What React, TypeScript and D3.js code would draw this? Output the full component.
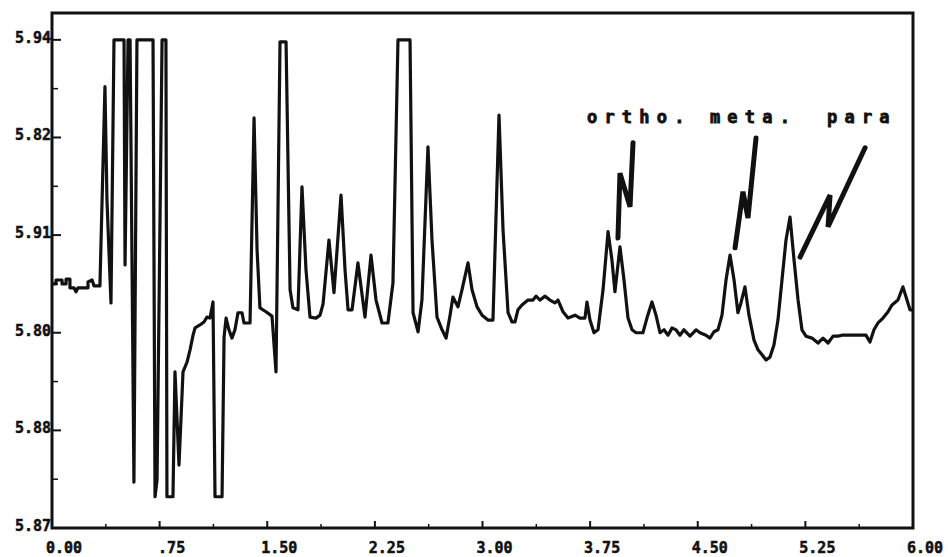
import React from "react";
import * as d3 from "d3";

// retention time (min) vs detector signal
const trace: [number, number][] = [
  [0, 5.89], [0.028, 5.89], [0.028, 5.8908], [0.07, 5.8908], [0.07, 5.89], [0.098, 5.89],
  [0.098, 5.891], [0.125, 5.891], [0.125, 5.8892], [0.153, 5.8892], [0.167, 5.8884], [0.181, 5.8892],
  [0.251, 5.8892], [0.251, 5.8904], [0.279, 5.8908], [0.293, 5.8896], [0.334, 5.8896],
  [0.369, 5.9304], [0.383, 5.9072], [0.411, 5.8861], [0.432, 5.94], [0.502, 5.94], [0.509, 5.8939],
  [0.53, 5.94], [0.544, 5.94], [0.571, 5.8494], [0.592, 5.94], [0.704, 5.94], [0.718, 5.8464],
  [0.732, 5.8498], [0.767, 5.94], [0.794, 5.94], [0.801, 5.8464], [0.843, 5.8464], [0.857, 5.872],
  [0.885, 5.8529], [0.913, 5.872], [0.941, 5.874], [0.962, 5.8765], [0.983, 5.8795], [0.997, 5.881],
  [1.031, 5.8816], [1.059, 5.8822], [1.08, 5.8832], [1.101, 5.883], [1.122, 5.8863], [1.136, 5.8464],
  [1.185, 5.8464], [1.199, 5.8791], [1.213, 5.883], [1.233, 5.8806], [1.254, 5.8789], [1.275, 5.8806],
  [1.296, 5.8841], [1.324, 5.8841], [1.338, 5.882], [1.38, 5.882], [1.408, 5.924], [1.429, 5.897],
  [1.449, 5.8851], [1.491, 5.8843], [1.533, 5.8834], [1.561, 5.872], [1.589, 5.9396], [1.631, 5.9396],
  [1.659, 5.8888], [1.679, 5.8851], [1.714, 5.8847], [1.742, 5.9099], [1.77, 5.8929], [1.798, 5.8832],
  [1.84, 5.883], [1.868, 5.8836], [1.889, 5.8859], [1.93, 5.899], [1.965, 5.8882], [2.014, 5.9082],
  [2.042, 5.8929], [2.063, 5.8847], [2.091, 5.8847], [2.132, 5.8943], [2.181, 5.8832], [2.223, 5.8959],
  [2.258, 5.8867], [2.3, 5.882], [2.341, 5.882], [2.376, 5.8902], [2.411, 5.94], [2.495, 5.94],
  [2.516, 5.8841], [2.551, 5.8802], [2.578, 5.8867], [2.62, 5.9181], [2.648, 5.899], [2.683, 5.8832],
  [2.718, 5.8806], [2.746, 5.8789], [2.774, 5.8836], [2.794, 5.8873], [2.829, 5.8853], [2.857, 5.8888],
  [2.899, 5.8943], [2.927, 5.8888], [2.962, 5.8853], [2.997, 5.8836], [3.038, 5.8826], [3.073, 5.8826],
  [3.115, 5.9246], [3.143, 5.9011], [3.178, 5.8841], [3.206, 5.8822], [3.226, 5.8822], [3.247, 5.8847],
  [3.275, 5.8857], [3.317, 5.8867], [3.352, 5.8867], [3.373, 5.8875], [3.401, 5.8867], [3.436, 5.8875],
  [3.47, 5.8867], [3.505, 5.8861], [3.526, 5.8867], [3.561, 5.8843], [3.596, 5.883], [3.645, 5.8836],
  [3.679, 5.883], [3.714, 5.883], [3.728, 5.8863], [3.749, 5.8826], [3.777, 5.88], [3.805, 5.8806],
  [3.84, 5.8888], [3.875, 5.9007], [3.902, 5.8949], [3.923, 5.8884], [3.958, 5.8976], [3.986, 5.8908],
  [4.014, 5.883], [4.042, 5.8806], [4.07, 5.88], [4.118, 5.88], [4.146, 5.883], [4.181, 5.8863],
  [4.209, 5.8836], [4.237, 5.88], [4.265, 5.8806], [4.293, 5.8795], [4.321, 5.881], [4.348, 5.8806],
  [4.376, 5.8795], [4.404, 5.8806], [4.446, 5.8793], [4.488, 5.8806], [4.516, 5.88], [4.557, 5.8795],
  [4.585, 5.8789], [4.613, 5.8802], [4.641, 5.8806], [4.669, 5.8836], [4.697, 5.8908], [4.725, 5.8959],
  [4.753, 5.8908], [4.78, 5.8841], [4.801, 5.8861], [4.829, 5.8894], [4.857, 5.8836], [4.892, 5.8785],
  [4.92, 5.8765], [4.948, 5.8755], [4.976, 5.8744], [5.003, 5.875], [5.031, 5.8775], [5.059, 5.8826],
  [5.087, 5.8908], [5.115, 5.899], [5.143, 5.9037], [5.171, 5.8949], [5.199, 5.8867], [5.226, 5.8806],
  [5.254, 5.8793], [5.296, 5.8789], [5.338, 5.8779], [5.373, 5.8789], [5.408, 5.8779], [5.443, 5.8793],
  [5.477, 5.8793], [5.505, 5.8795], [5.561, 5.8795], [5.617, 5.8795], [5.672, 5.8795], [5.7, 5.8781],
  [5.728, 5.8806], [5.756, 5.882], [5.791, 5.883], [5.826, 5.8843], [5.854, 5.8857], [5.895, 5.8867],
  [5.93, 5.8894], [5.958, 5.8867], [5.979, 5.8847], [6.0, 5.8847],
];

const xTicks = [0, 0.75, 1.5, 2.25, 3.0, 3.75, 4.5, 5.25, 6.0];
const xTickLabels = ["0.00", ".75", "1.50", "2.25", "3.00", "3.75", "4.50", "5.25", "6.00"];
const xMinor = [0.375, 1.125, 1.875, 2.625, 3.375, 4.125, 4.875, 5.625];

const yTicks = [5.84, 5.86, 5.88, 5.9, 5.92, 5.94];
const yTickLabels = ["5.87", "5.88", "5.80", "5.91", "5.82", "5.94"]; // as printed on the scan
const yMinor = [5.85, 5.87, 5.89, 5.91, 5.93];

// peak labels and the zig-zag pointers (data coords)
const peakNames = ["ortho.", "meta.", "para"];
const peakLabelX = [3.728, 4.585, 5.401];
const peakLabelY = 5.923;
const pointers: [number, number][][] = [
  [[3.944, 5.8994], [3.958, 5.9127], [4.028, 5.9058], [4.049, 5.9189]],
  [[4.76, 5.8974], [4.815, 5.9089], [4.85, 5.9035], [4.906, 5.9199]],
  [[5.213, 5.8955], [5.422, 5.9082], [5.408, 5.9017], [5.666, 5.9179]],
];

const W = 948;
const H = 557;
const left = 52, right = 913, top = 13, bottom = 528;
const ink = "#111";
const font = "'DejaVu Sans Mono', monospace";

export default function App() {
  const x = d3.scaleLinear().domain([0, 6]).range([left, right]);
  const y = d3.scaleLinear().domain([5.84, 5.9455]).range([bottom, top]);

  const line = d3.line<[number, number]>().x((d) => x(d[0])).y((d) => y(d[1]));

  return (
    <svg width={W} height={H} style={{ position: "absolute", left: 0, top: 0, background: "#fff" }}>
      <rect x={left} y={top} width={right - left} height={bottom - top} fill="none" stroke={ink} strokeWidth={3} />

      {yTicks.map((v, i) => (
        <g key={"y" + i}>
          <line x1={left} x2={left + 9} y1={y(v)} y2={y(v)} stroke={ink} strokeWidth={2} />
          <text x={left - 1} y={y(v) + 3} textAnchor="end" fontFamily={font} fontWeight="bold" fontSize={15}
            fill={ink} stroke={ink} strokeWidth={0.5}>
            {yTickLabels[i]}
          </text>
        </g>
      ))}
      {yMinor.map((v, i) => (
        <line key={"ym" + i} x1={left} x2={left + 6} y1={y(v)} y2={y(v)} stroke={ink} strokeWidth={1.5} />
      ))}

      {xTicks.map((v, i) => (
        <g key={"x" + i}>
          <line x1={x(v)} x2={x(v)} y1={bottom} y2={bottom - 7} stroke={ink} strokeWidth={2} />
          <text x={x(v) + 12} y={553} textAnchor="middle" fontFamily={font} fontWeight="bold" fontSize={15}
            fill={ink} stroke={ink} strokeWidth={0.5}>
            {xTickLabels[i]}
          </text>
        </g>
      ))}
      {xMinor.map((v, i) => (
        <line key={"xm" + i} x1={x(v)} x2={x(v)} y1={bottom} y2={bottom - 4} stroke={ink} strokeWidth={1.5} />
      ))}

      <path d={line(trace) ?? ""} fill="none" stroke={ink} strokeWidth={3.2} strokeLinejoin="round" />

      {peakNames.map((name, i) => (
        <text key={name} x={x(peakLabelX[i])} y={y(peakLabelY)} fontFamily={font} fontWeight="bold" fontSize={17}
          letterSpacing={7.2} fill={ink} stroke={ink} strokeWidth={0.8}>
          {name}
        </text>
      ))}
      {pointers.map((p, i) => (
        <path key={"p" + i} d={line(p) ?? ""} fill="none" stroke={ink} strokeWidth={5} strokeLinecap="round" />
      ))}
    </svg>
  );
}
